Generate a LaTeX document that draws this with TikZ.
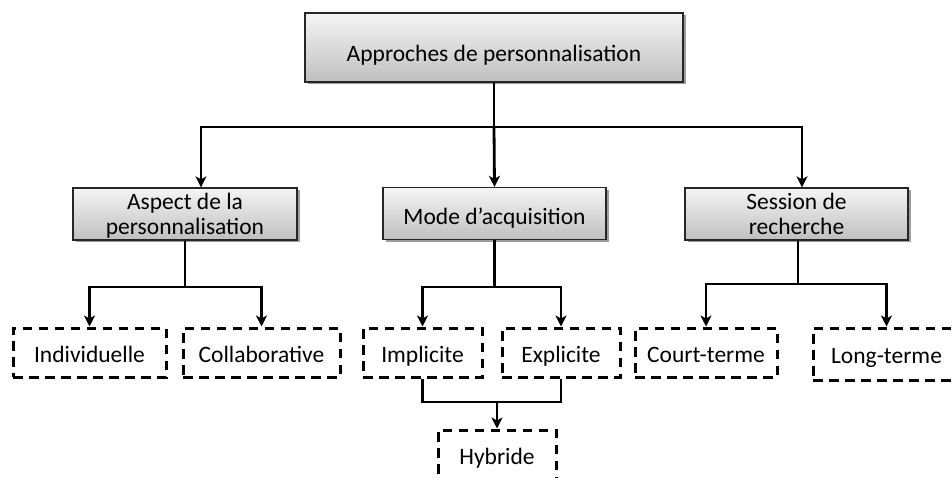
\documentclass[tikz,border=0pt]{standalone}
\usepackage{fontspec}
\setmainfont{Carlito}
\usetikzlibrary{arrows.meta,shadows}
\begin{document}
\begin{tikzpicture}[x=1pt,y=-1pt,
  every node/.style={font=\fontsize{23.5}{25}\selectfont, inner sep=0pt},
  catbox/.style={draw=black!85, line width=1.3pt, top color=white!96!black,
    bottom color=black!25, minimum width=#1, minimum height=52pt,
    text height=23pt, text depth=0pt,
    drop shadow={shadow xshift=2.5pt, shadow yshift=-2.5pt, fill=black!55, opacity=0.7}},
  twoline/.style={align=center, text height=46pt, text depth=4pt},
  leafbox/.style={draw=black, line width=3pt, dash pattern=on 9.5pt off 6.5pt,
    minimum width=#1, minimum height=49pt, text height=19pt, text depth=0pt},
  conn/.style={line width=2.8pt, black},
  arr/.style={conn, -{Stealth[length=11pt,width=11pt,inset=3pt]}}
]
\useasboundingbox (0,0) rectangle (952,478);
\clip (0,0) rectangle (952,478);

% root
\node[catbox=378pt, minimum height=69pt, text height=29pt] (root) at (494,47.5) {Approches de personnalisation};

% second level
\node[catbox=224pt, twoline] (aspect) at (185,214) {Aspect de la\\personnalisation};
\node[catbox=223pt] (mode) at (494.5,213.5) {Mode d’acquisition};
\node[catbox=223pt, twoline] (session) at (796.5,214) {Session de\\recherche};

% leaves
\node[leafbox=153pt] (indiv) at (89.5,352.5) {Individuelle};
\node[leafbox=157pt] (collab) at (261.5,352.5) {Collaborative};
\node[leafbox=119pt] (impl) at (422.5,352.5) {Implicite};
\node[leafbox=118pt] (expl) at (561,352.5) {Explicite};
\node[leafbox=142pt] (court) at (706,352.5) {Court-terme};
\node[leafbox=147pt, minimum height=52pt] (long) at (886.5,354) {Long-terme};
\node[leafbox=118pt, minimum height=50pt] (hyb) at (497,455) {Hybride};

% root to categories
\coordinate (rootbus) at (root.south |- 0,127);
\draw[conn] (root.south) -- (rootbus);
\draw[arr] (rootbus) -| (201,0 |- aspect.north);
\draw[arr] (rootbus) -- (mode.north);
\draw[arr] (rootbus) -| (802,0 |- session.north);

% aspect
\coordinate (abus) at (aspect.south |- 0,287);
\draw[conn] (aspect.south) -- (abus);
\draw[arr] (abus) -| (indiv.north);
\draw[arr] (abus) -| (collab.north);

% mode
\coordinate (mbus) at (mode.south |- 0,287);
\draw[conn] (mode.south) -- (mbus);
\draw[arr] (mbus) -| (impl.north);
\draw[arr] (mbus) -| (expl.north);

% session
\coordinate (sbus) at (798,0 |- 0,284);
\draw[conn] (798,0 |- session.south) -- (sbus);
\draw[arr] (sbus) -| (court.north);
\draw[arr] (sbus) -| (long.north);

% implicit + explicit -> hybrid
\coordinate (hbus) at (hyb.north |- 0,402);
\draw[conn] (impl.south) |- (hbus) -| (expl.south);
\draw[arr] (hbus) -- (hyb.north);
\end{tikzpicture}
\end{document}
